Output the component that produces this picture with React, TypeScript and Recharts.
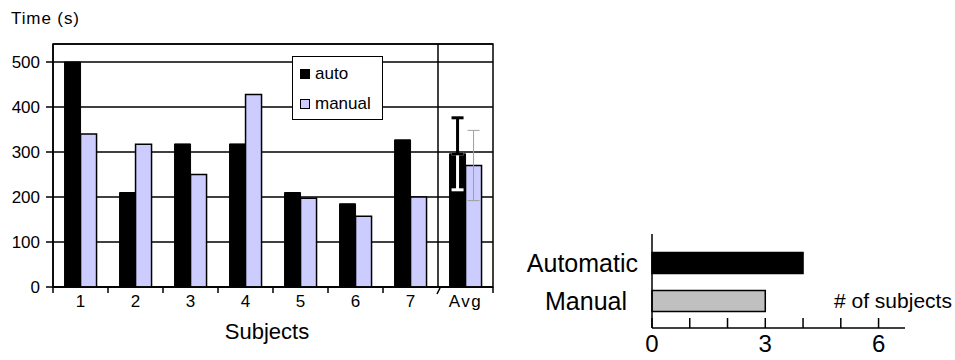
import React from "react";
import {
  BarChart,
  Bar,
  Cell,
  XAxis,
  YAxis,
  CartesianGrid,
  ReferenceLine,
  ReferenceArea,
  ErrorBar,
} from "recharts";

const font = "'Liberation Sans', Arial, Helvetica, sans-serif";

// Completion time per subject
const subjects = ["1", "2", "3", "4", "5", "6", "7", "Avg"];
const autoTimes = [500, 210, 318, 318, 210, 185, 327, 296];
const manualTimes = [340, 317, 250, 428, 197, 157, 200, 270];
const autoSpread = [0, 0, 0, 0, 0, 0, 0, 80];
const manualSpread = [0, 0, 0, 0, 0, 0, 0, 78];
const timeTicks = [0, 100, 200, 300, 400, 500];

// Preferred method
const methods = ["Automatic", "Manual"];
const methodCounts = [4, 3];
const methodColors = ["#000000", "#C0C0C0"];
const countTicks = [0, 1, 2, 3, 4, 5, 6];

const timeRows = subjects.map((s, i) => ({
  subject: s,
  auto: autoTimes[i],
  manual: manualTimes[i],
  autoUp: autoSpread[i] ? [0, autoSpread[i]] : null,
  autoDown: autoSpread[i] ? [autoSpread[i], 0] : null,
  manualErr: manualSpread[i] || null,
}));

const methodRows = methods.map((m, i) => ({ method: m, count: methodCounts[i] }));

function SubjectTick(props: any) {
  const { x, y, payload, index, visibleTicksCount, width } = props;
  const half = payload.offset ?? width / visibleTicksCount / 2;
  const axisY = y - 14;
  const left = x - half;
  const isLast = index === visibleTicksCount - 1;
  return (
    <g>
      {isLast ? (
        <line x1={left + 2} y1={axisY + 1} x2={left - 1} y2={axisY + 7} stroke="#000" strokeWidth={1.5} />
      ) : (
        <line x1={left} y1={axisY} x2={left} y2={axisY + 6} stroke="#000" strokeWidth={1.5} />
      )}
      {isLast && (
        <line x1={x + half} y1={axisY} x2={x + half} y2={axisY + 6} stroke="#000" strokeWidth={1.5} />
      )}
      <text
        x={x}
        y={y}
        dy="0.36em"
        textAnchor="middle"
        fontSize={17}
        fontFamily={font}
        fill="#000"
        letterSpacing={payload.value === "Avg" ? 1.5 : 0}
      >
        {payload.value}
      </text>
    </g>
  );
}

function LegendBox() {
  const item = (color: string, label: string) => (
    <div style={{ display: "flex", alignItems: "center", height: 30 }}>
      <span
        style={{
          display: "inline-block",
          width: 10,
          height: 10,
          background: color,
          border: "1px solid #000",
          boxSizing: "border-box",
          marginRight: 5,
        }}
      />
      <span>{label}</span>
    </div>
  );
  return (
    <div
      style={{
        position: "absolute",
        left: 292,
        top: 56,
        width: 91,
        height: 64,
        boxSizing: "border-box",
        border: "1.5px solid #000",
        background: "#fff",
        padding: "2px 0 0 7px",
        fontFamily: font,
        fontSize: 17,
        color: "#000",
      }}
    >
      {item("#000000", "auto")}
      {item("#CCCCFF", "manual")}
    </div>
  );
}

function MethodTick(props: any) {
  const { x, y, payload } = props;
  // the shorter label sits a little further in from the axis
  const shift = payload.value === "Manual" ? -11 : 0;
  return (
    <text
      x={x + shift}
      y={y}
      dy="0.36em"
      textAnchor="end"
      fontSize={25}
      fontFamily={font}
      fill="#000"
    >
      {payload.value}
    </text>
  );
}

function CountTick(props: any) {
  const { x, y, payload } = props;
  const axisY = y;
  return (
    <g>
      <line x1={x} y1={axisY} x2={x} y2={axisY - 10} stroke="#000" strokeWidth={1.5} />
      {payload.value % 3 === 0 && (
        <text
          x={x}
          y={axisY + 15}
          dy="0.36em"
          textAnchor="middle"
          fontSize={24}
          fontFamily={font}
          fill="#000"
        >
          {payload.value}
        </text>
      )}
    </g>
  );
}

export default function App() {
  return (
    <div style={{ position: "absolute", left: 0, top: 0, width: 955, height: 360, background: "#fff", fontFamily: font }}>
      <div style={{ position: "absolute", left: 11, top: 9, fontSize: 17, letterSpacing: 0.9, color: "#000" }}>
        Time (s)
      </div>

      <div style={{ position: "absolute", left: 0, top: 0 }}>
        <BarChart
          width={500}
          height={345}
          data={timeRows}
          margin={{ top: 44, right: 7, left: 13, bottom: 0 }}
          barCategoryGap="21%"
          barGap={0}
        >
          <CartesianGrid vertical={false} stroke="#000" strokeWidth={1.5} />
          <XAxis
            dataKey="subject"
            height={58}
            axisLine={{ stroke: "#000", strokeWidth: 1.5 }}
            tickLine={false}
            tickSize={0}
            tickMargin={14}
            interval={0}
            tick={<SubjectTick />}
            label={{
              value: "Subjects",
              position: "insideBottom",
              offset: 6,
              dx: -6,
              fontSize: 22,
              fontFamily: font,
              fill: "#000",
            }}
          />
          <YAxis
            width={40}
            domain={[0, 540]}
            ticks={timeTicks}
            allowDataOverflow
            axisLine={{ stroke: "#000", strokeWidth: 1.5 }}
            tickLine={{ stroke: "#000", strokeWidth: 1.5 }}
            tickSize={7}
            tickMargin={6}
            tick={{ fontSize: 17, fontFamily: font, fill: "#000" }}
          />
          <ReferenceArea y1={0} y2={540} fill="none" stroke="#000" strokeWidth={1.5} />
          <ReferenceLine x="Avg" position="start" stroke="#000" strokeWidth={1.5} />
          <Bar dataKey="auto" fill="#000000" stroke="#000" isAnimationActive={false}>
            <ErrorBar dataKey="autoDown" direction="y" width={6} stroke="#fff" strokeWidth={3} />
            <ErrorBar dataKey="autoUp" direction="y" width={6} stroke="#000" strokeWidth={3} />
          </Bar>
          <Bar dataKey="manual" fill="#CCCCFF" stroke="#000" strokeWidth={1.5} isAnimationActive={false}>
            <ErrorBar dataKey="manualErr" direction="y" width={6} stroke="#A0A0A0" strokeWidth={1} />
          </Bar>
        </BarChart>
      </div>

      <LegendBox />

      <div style={{ position: "absolute", left: 500, top: 215 }}>
        <BarChart
          width={455}
          height={145}
          data={methodRows}
          layout="vertical"
          margin={{ top: 19, right: 50, left: 52, bottom: 0 }}
        >
          <XAxis
            type="number"
            domain={[0, 6.7]}
            ticks={countTicks}
            height={32}
            axisLine={{ stroke: "#000", strokeWidth: 1.5 }}
            tickLine={false}
            tickSize={0}
            tickMargin={0}
            interval={0}
            tick={<CountTick />}
          />
          <YAxis
            type="category"
            dataKey="method"
            width={100}
            padding={{ top: 9.5, bottom: 8.5 }}
            axisLine={{ stroke: "#000", strokeWidth: 1.5 }}
            tickLine={false}
            tickSize={0}
            tickMargin={14}
            tick={<MethodTick />}
          />
          <Bar dataKey="count" barSize={21} stroke="#000" strokeWidth={1.5} isAnimationActive={false}>
            {methodRows.map((_, i) => (
              <Cell key={i} fill={methodColors[i]} />
            ))}
          </Bar>
        </BarChart>
      </div>

      <div style={{ position: "absolute", left: 834, top: 289, fontSize: 21, color: "#000" }}>
        # of subjects
      </div>
    </div>
  );
}
